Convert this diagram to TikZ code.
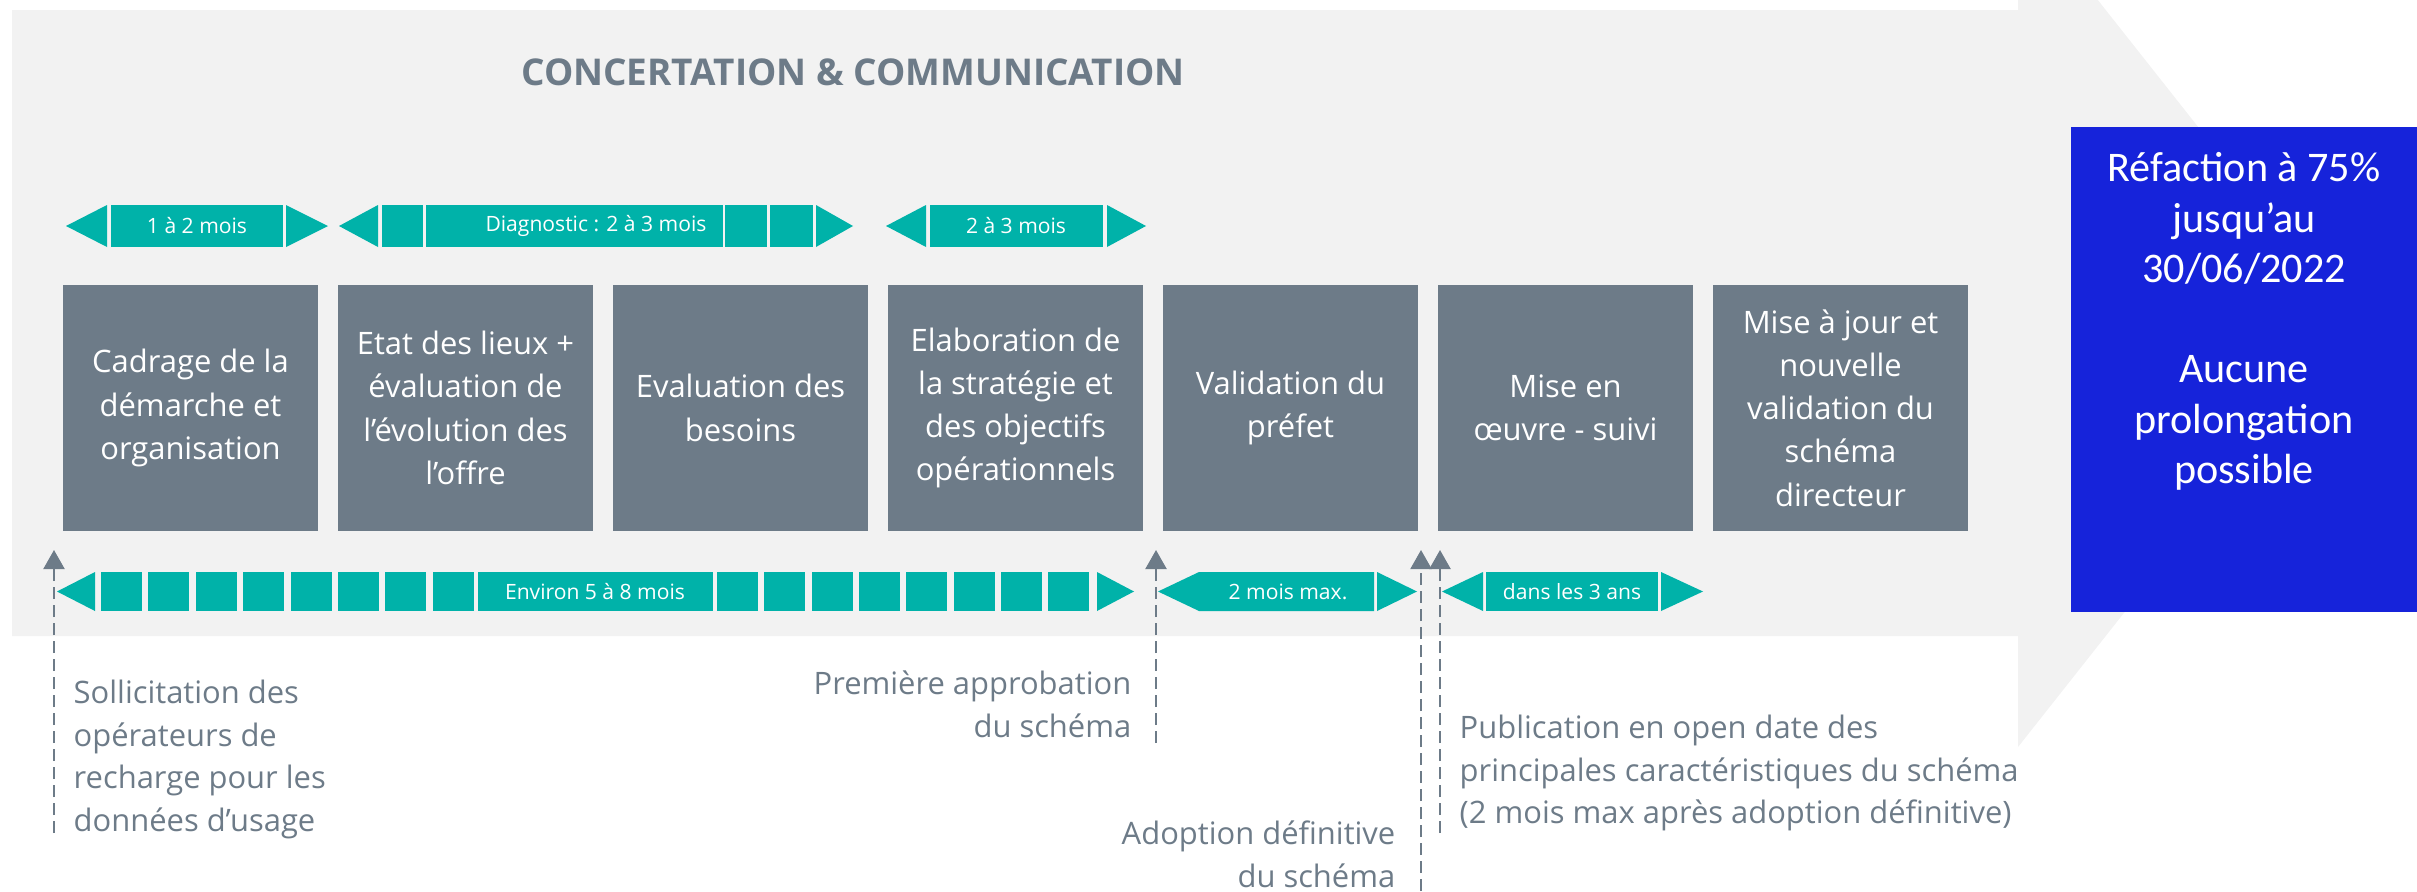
\documentclass[tikz,border=0pt]{standalone}
\usepackage{fontspec}
\setmainfont{Open Sans}
\newfontfamily\refactionfont{Carlito}
\usetikzlibrary{arrows.meta}
\definecolor{bandgrey}{HTML}{F2F2F2}
\definecolor{slate}{HTML}{6D7B88}
\definecolor{barteal}{HTML}{00B2A9}
\definecolor{refblue}{RGB}{22,35,218}
\tikzset{
  stepbox/.style={fill=slate,text=white,minimum width=25.5mm,minimum height=24.6mm,inner sep=0pt,align=center,font=\fontsize{8.8}{12.3}\selectfont},
  barlabel/.style={text=white,inner sep=0pt,font=\fontsize{6}{7}\selectfont},
  note/.style={text=slate,inner sep=0pt,font=\fontsize{8.8}{12.2}\selectfont},
  milestone/.style={slate,line width=.6pt,dash pattern=on 1.2mm off .6mm,-{Triangle[length=1.9mm,width=2.1mm]}},
}

\begin{document}
\begin{tikzpicture}[x=.1mm,y=-.1mm]
\useasboundingbox (0,0) rectangle (2417,891);
\begin{scope}
\clip (0,0) rectangle (2417,891);
\fill[bandgrey] (12,10)--(2018,10)--(2018,-101)--(2353,323)--(2018,747)--(2018,636)--(12,636)--cycle;
\end{scope}

\node[text=slate,inner sep=0pt,font=\bfseries\fontsize{10.5}{12}\selectfont] (concertation) at (853,72) {CONCERTATION \& COMMUNICATION};

\node[fill=refblue,text=white,minimum width=34.6mm,minimum height=48.5mm,inner sep=0pt,align=center,text depth=10.3mm,font=\refactionfont\fontsize{12}{14.3}\selectfont] (refaction) at (2244,369.5) {R\'efaction \`a 75\%\\jusqu’au\\30/06/2022\\[14.3pt]Aucune\\prolongation\\possible};

% etapes
\node[stepbox] (cadrage) at (190.5,408) {Cadrage de la\\démarche et\\organisation};
\node[stepbox] (etat) at (465.5,408) {Etat des lieux +\\évaluation de\\l’évolution des\\l’offre};
\node[stepbox] (besoins) at (740.5,408) {Evaluation des\\besoins};
\node[stepbox] (strategie) at (1015.5,408) {Elaboration de\\la stratégie et\\des objectifs\\opérationnels};
\node[stepbox] (validation) at (1290.5,408) {Validation du\\préfet};
\node[stepbox] (suivi) at (1565.5,408) {Mise en\\œuvre - suivi};
\node[stepbox] (miseajour) at (1840.5,408) {Mise à jour et\\nouvelle\\validation du\\schéma\\directeur};

% durees (haut)
\fill[barteal] (66,226)--(107,205)--(107,247)--cycle;
\fill[barteal] (111,205) rectangle (283,247);
\fill[barteal] (286,205)--(328,226)--(286,247)--cycle;
\node[barlabel] (cadrageDuree) at (197,226) {1 à 2 mois};

\fill[barteal] (339,226)--(378,205)--(378,247)--cycle;
\foreach \a/\b in {382/423,426/723,725/767,770/813}
  \fill[barteal] (\a,205) rectangle (\b,247);
\fill[barteal] (816,205)--(853,226)--(816,247)--cycle;
\node[barlabel] (diagnostic) at (596,226) {Diagnostic : 2 à 3 mois};

\fill[barteal] (886,226)--(926,205)--(926,247)--cycle;
\fill[barteal] (930,205) rectangle (1103,247);
\fill[barteal] (1107,205)--(1146,226)--(1107,247)--cycle;
\node[barlabel] (strategieDuree) at (1016,226) {2 à 3 mois};

% durees (bas)
\fill[barteal] (57,591.5)--(95,572)--(95,611)--cycle;
\foreach \i in {0,...,7} {
  \fill[barteal] (101+47.4*\i,572) rectangle (142+47.4*\i,611);
  \fill[barteal] (717+47.3*\i,572) rectangle (758+47.3*\i,611);
}
\fill[barteal] (478,572) rectangle (713,611);
\fill[barteal] (1097,572)--(1134,591.5)--(1097,611)--cycle;
\node[barlabel] (environ) at (595,591.5) {Environ 5 à 8 mois};

\fill[barteal] (1158,591.5)--(1199,572)--(1374,572)--(1374,611)--(1199,611)--cycle;
\fill[barteal] (1377,572)--(1417,591.5)--(1377,611)--cycle;
\node[barlabel] (deuxMois) at (1288,591.5) {2 mois max.};

\fill[barteal] (1442,591.5)--(1483,572)--(1483,611)--cycle;
\fill[barteal] (1486,572) rectangle (1658,611);
\fill[barteal] (1661,572)--(1703,591.5)--(1661,611)--cycle;
\node[barlabel] (troisAns) at (1572,591.5) {dans les 3 ans};

% jalons
\coordinate (sollicitationTip) at (54,550);
\coordinate (sollicitationEnd) at (54,833);
\coordinate (approbationTip) at (1156,550);
\coordinate (approbationEnd) at (1156,743);
\coordinate (adoptionTip) at (1421,550);
\coordinate (adoptionEnd) at (1421,891);
\coordinate (publicationTip) at (1440,550);
\coordinate (publicationEnd) at (1440,833);
\draw[milestone] (sollicitationEnd) -- (sollicitationTip);
\draw[milestone] (approbationEnd) -- (approbationTip);
\draw[milestone] (adoptionEnd) -- (adoptionTip);
\draw[milestone] (publicationEnd) -- (publicationTip);

\node[note,anchor=north west,align=left] (sollicitation) at (73,679) {Sollicitation des\\opérateurs de\\recharge pour les\\données d’usage};
\node[note,anchor=north east,align=right] (approbation) at (1132,670) {Première approbation\\du schéma};
\node[note,anchor=north east,align=right] (adoption) at (1396,820) {Adoption définitive\\du schéma};
\node[note,anchor=north west,align=left] (publication) at (1459,714) {Publication en open date des\\principales caractéristiques du schéma\\(2 mois max après adoption définitive)};
\end{tikzpicture}
\end{document}
